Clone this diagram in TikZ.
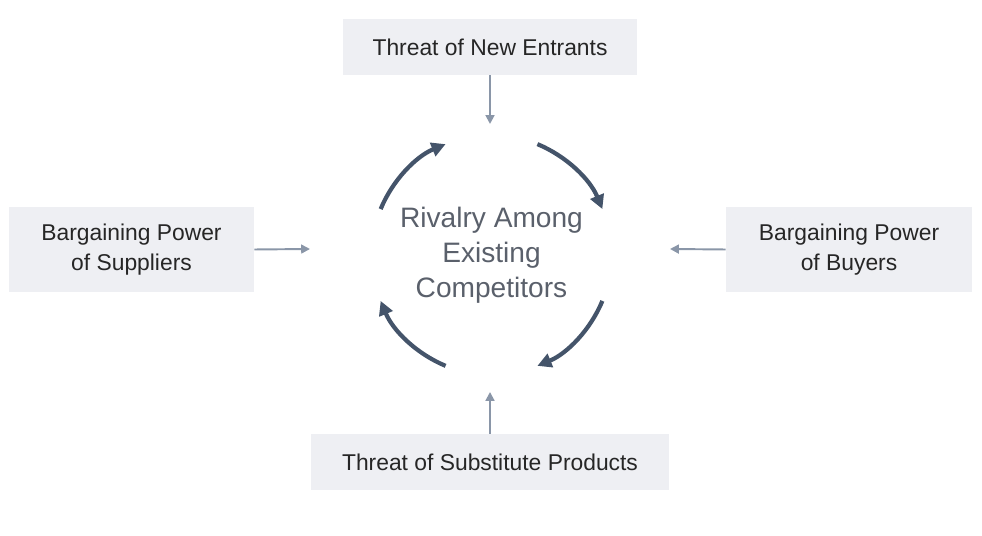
\documentclass[tikz,border=0pt]{standalone}
\usepackage{fontspec}
\setmainfont{Liberation Sans}
\usetikzlibrary{arrows.meta,calc}
\definecolor{boxgray}{HTML}{EEEFF3}
\definecolor{arrowgray}{HTML}{8A96A8}
\definecolor{slate}{HTML}{44546A}
\definecolor{textgray}{HTML}{5A606B}

\begin{document}
\begin{tikzpicture}[
    force/.style={fill=boxgray,inner sep=0pt,align=center,font=\fontsize{13}{17}\selectfont,text=black!85},
    push/.style={->,>={Triangle[length=5pt,width=5pt]},arrowgray,line width=1.1pt},
    cycle/.style={->,>={Triangle[length=8pt,width=8pt]},slate,line width=2.4pt}
  ]
  \pgfmathsetmacro{\Radius}{2.4};
  \pgfmathsetmacro{\Half}{22.5};
  %
  \useasboundingbox (0,0) rectangle (19.64,10.72);
  \coordinate (O) at (9.83,5.62);
  %
  % the five forces
  \node[force,minimum width=5.88cm,minimum height=1.12cm] (entrants) at (9.8,9.78) {Threat of New Entrants};
  \node[force,minimum width=4.9cm,minimum height=1.7cm] (suppliers) at (2.63,5.73) {Bargaining Power\\of Suppliers};
  \node[force,minimum width=4.92cm,minimum height=1.7cm] (buyers) at (16.98,5.73) {Bargaining Power\\of Buyers};
  \node[force,minimum width=7.16cm,minimum height=1.12cm] (substitutes) at (9.8,1.48) {Threat of Substitute Products};
  \node[align=center,text=textgray,font=\fontsize{16}{20}\selectfont] (rivalry) at (O) {Rivalry Among\\Existing\\Competitors};
  %
  % arrow ends near the circle
  \coordinate (t) at (9.8,8.24);
  \coordinate (l) at (6.2,5.74);
  \coordinate (r) at (13.4,5.74);
  \coordinate (b) at (9.8,2.88);
  \draw[push] (entrants.south) -- (t);
  \draw[push] (suppliers.east) -- (l);
  \draw[push] (buyers.west) -- (r);
  \draw[push] (substitutes.north) -- (b);
  %
  % rivalry cycle
  \foreach \c in {135,45,-45,-135}
    \draw[cycle] ($(O)+({\c+\Half}:\Radius)$) arc ({\c+\Half}:{\c-\Half}:\Radius);
\end{tikzpicture}
\end{document}
